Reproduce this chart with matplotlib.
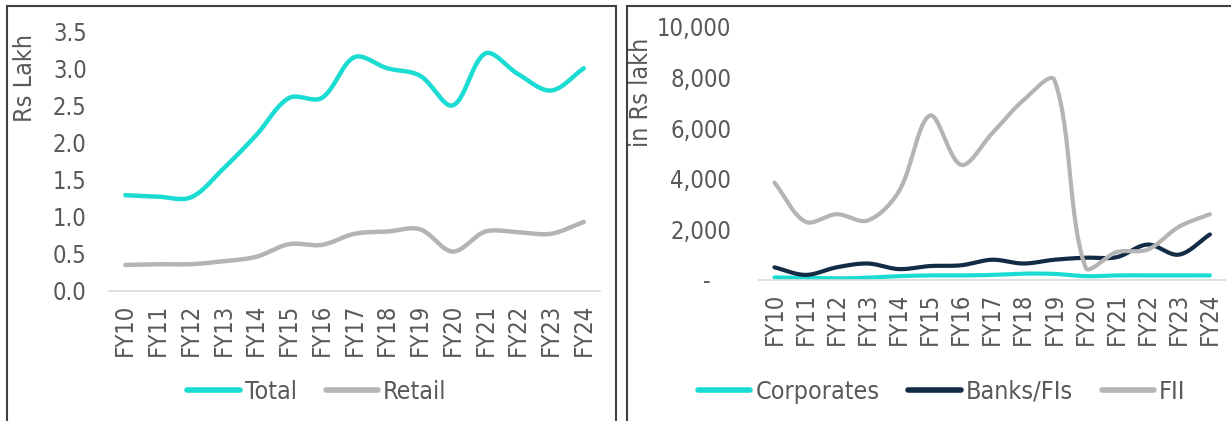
import numpy as np
import matplotlib.pyplot as plt
from matplotlib.patches import Rectangle
from matplotlib.lines import Line2D
from matplotlib.ticker import FuncFormatter

years = ["FY10", "FY11", "FY12", "FY13", "FY14", "FY15", "FY16", "FY17",
         "FY18", "FY19", "FY20", "FY21", "FY22", "FY23", "FY24"]

# left panel (Rs Lakh)
total = [1.29, 1.27, 1.26, 1.65, 2.10, 2.60, 2.60, 3.15, 3.00, 2.90, 2.50, 3.20, 2.92, 2.70, 3.00]
retail = [0.35, 0.36, 0.36, 0.40, 0.46, 0.63, 0.62, 0.77, 0.80, 0.83, 0.53, 0.80, 0.79, 0.77, 0.93]

# right panel (in Rs lakh)
corporates = [100, 80, 60, 90, 150, 180, 180, 200, 250, 240, 150, 180, 180, 180, 180]
banks = [500, 200, 500, 650, 430, 550, 580, 800, 650, 800, 880, 900, 1400, 1000, 1800]
fii = [3850, 2300, 2600, 2350, 3500, 6500, 4550, 5800, 7100, 7900, 500, 1100, 1200, 2100, 2600]

CYAN = "#1BDCD2"
GREY = "#B4B4B4"
NAVY = "#132C45"
TXT = "#595959"

plt.rcParams["font.family"] = "DejaVu Sans"
plt.rcParams["font.stretch"] = "condensed"


def smooth(y, sx, sy, n=30):
    """Excel-style smoothed line: Bezier segments with chord-scaled tangents.

    sx, sy are pixels per data unit, so the tangents are worked out on screen.
    """
    y = np.asarray(y, dtype=float)
    pts = np.column_stack([np.arange(len(y)) * sx, y * sy])
    d = np.linalg.norm(np.diff(pts, axis=0), axis=1)
    tan = np.zeros_like(pts)
    tan[0] = (pts[1] - pts[0]) / d[0]
    tan[-1] = (pts[-1] - pts[-2]) / d[-1]
    for i in range(1, len(pts) - 1):
        tan[i] = (pts[i + 1] - pts[i - 1]) / (d[i - 1] + d[i])
    t = np.linspace(0, 1, n, endpoint=False)[:, None]
    out = []
    for i in range(len(pts) - 1):
        b0 = pts[i]
        b3 = pts[i + 1]
        b1 = b0 + tan[i] * d[i] / 3
        b2 = b3 - tan[i + 1] * d[i] / 3
        out.append((1 - t) ** 3 * b0 + 3 * (1 - t) ** 2 * t * b1
                   + 3 * (1 - t) * t ** 2 * b2 + t ** 3 * b3)
    out.append(pts[-1:])
    curve = np.vstack(out)
    return curve[:, 0] / sx, curve[:, 1] / sy


def style_axes(ax):
    for side in ("top", "right", "left"):
        ax.spines[side].set_visible(False)
    ax.spines["bottom"].set_color("#D9D9D9")
    ax.spines["bottom"].set_linewidth(1.2)
    ax.tick_params(axis="both", length=0, colors=TXT, labelsize=17)
    ax.tick_params(axis="x", pad=9)
    ax.set_xticks(range(len(years)))
    ax.set_xticklabels(years, rotation=90)
    ax.set_xlim(-0.5, len(years) - 0.5)


fig = plt.figure(figsize=(12.31, 4.21), dpi=100)

# panel borders
for x0 in (7 / 1231, 627 / 1231):
    fig.patches.append(Rectangle((x0, -0.05), 0.495, 1.05 - 6 / 421,
                                 transform=fig.transFigure, fill=False,
                                 edgecolor="#404040", linewidth=1.5))

ax1 = fig.add_axes([0.0885, 0.309, 0.399, 0.617])
style_axes(ax1)
for vals, col in ((total, CYAN), (retail, GREY)):
    xs, ys = smooth(vals, 32.7, 260 / 3.5)
    ax1.plot(xs, ys, color=col, linewidth=3.2, solid_capstyle="round")
ax1.set_ylim(0, 3.5)
ax1.set_yticks(np.arange(0, 3.51, 0.5))
ax1.yaxis.set_major_formatter(FuncFormatter(lambda v, p: f"{v:.1f}"))
ax1.tick_params(axis="y", pad=16)
ax1.set_ylabel("Rs Lakh", color=TXT, fontsize=18)
ax1.yaxis.set_label_coords(-0.147, 0.82)

ax2 = fig.add_axes([0.6165, 0.335, 0.379, 0.601])
style_axes(ax2)
for vals, col in ((corporates, CYAN), (banks, NAVY), (fii, GREY)):
    xs, ys = smooth(vals, 31.0, 253 / 10000)
    ax2.plot(xs, ys, color=col, linewidth=3.0, solid_capstyle="round")
ax2.set_ylim(0, 10000)
ax2.set_yticks(range(0, 10001, 2000))
ax2.yaxis.set_major_formatter(
    FuncFormatter(lambda v, p: "-\u2007 " if v == 0 else f"{v:,.0f}"))
ax2.tick_params(axis="y", pad=20)
ax2.set_ylabel("in Rs lakh", color=TXT, fontsize=18)
ax2.yaxis.set_label_coords(-0.227, 0.743)

leg_kw = dict(frameon=False, fontsize=18, handlelength=2.1, handletextpad=0.2,
              columnspacing=1.15, labelcolor=TXT, loc="center")
h1 = [Line2D([], [], color=c, linewidth=4, solid_capstyle="round") for c in (CYAN, GREY)]
fig.legend(h1, ["Total", "Retail"], ncol=2, bbox_to_anchor=(0.2575, 0.069), **leg_kw)
h2 = [Line2D([], [], color=c, linewidth=4, solid_capstyle="round") for c in (CYAN, NAVY, GREY)]
fig.legend(h2, ["Corporates", "Banks/FIs", "FII"], ncol=3,
           bbox_to_anchor=(0.765, 0.069), **leg_kw)

fig.savefig("out.png", dpi=100)
